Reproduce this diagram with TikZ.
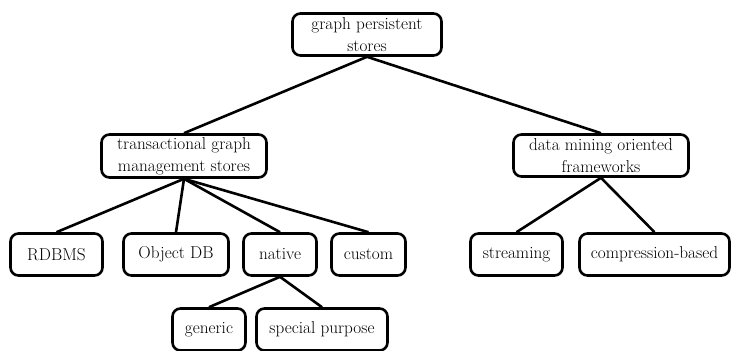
\documentclass[tikz,border=0pt]{standalone}
\begin{document}
\begin{tikzpicture}[x=1pt,y=-1pt,
  box/.style={draw, line width=2.6pt, rounded corners=8pt, inner sep=0pt,
    align=center, font=\fontsize{17.2}{22}\selectfont},
  link/.style={line width=2.6pt}]
\useasboundingbox (0,0) rectangle (732,351);
\node[box, minimum width=149pt, minimum height=42pt] (top) at (367,34.5) {graph persistent\\stores};
\node[box, minimum width=165pt, minimum height=43pt] (trans) at (184,156) {transactional graph\\management stores};
\node[box, minimum width=175pt, minimum height=42pt] (data) at (601,155.5) {data mining oriented\\frameworks};
\node[box, minimum width=92pt, minimum height=42pt] (rdbms) at (56.5,254.5) {RDBMS};
\node[box, minimum width=105pt, minimum height=42pt] (odb) at (176,254.5) {Object DB};
\node[box, minimum width=73pt, minimum height=42pt] (native) at (280,254.5) {native};
\node[box, minimum width=74pt, minimum height=42pt] (custom) at (368.5,254.5) {custom};
\node[box, minimum width=92pt, minimum height=42pt] (stream) at (516.5,254.5) {streaming};
\node[box, minimum width=150pt, minimum height=42pt] (comp) at (654.5,254.5) {compression-based};
\node[box, minimum width=73pt, minimum height=42pt] (generic) at (209,329.5) {generic};
\node[box, minimum width=131pt, minimum height=42pt] (special) at (322,329.5) {special purpose};
\draw[link] (top.south) -- (trans.north);
\draw[link] (top.south) -- (data.north);
\draw[link] (trans.south) -- (rdbms.north);
\draw[link] (trans.south) -- (odb.north);
\draw[link] (trans.south) -- (native.north);
\draw[link] (trans.south) -- (custom.north);
\draw[link] (data.south) -- (stream.north);
\draw[link] (data.south) -- (comp.north);
\draw[link] (native.south) -- (generic.north);
\draw[link] (native.south) -- (special.north);
\end{tikzpicture}
\end{document}
